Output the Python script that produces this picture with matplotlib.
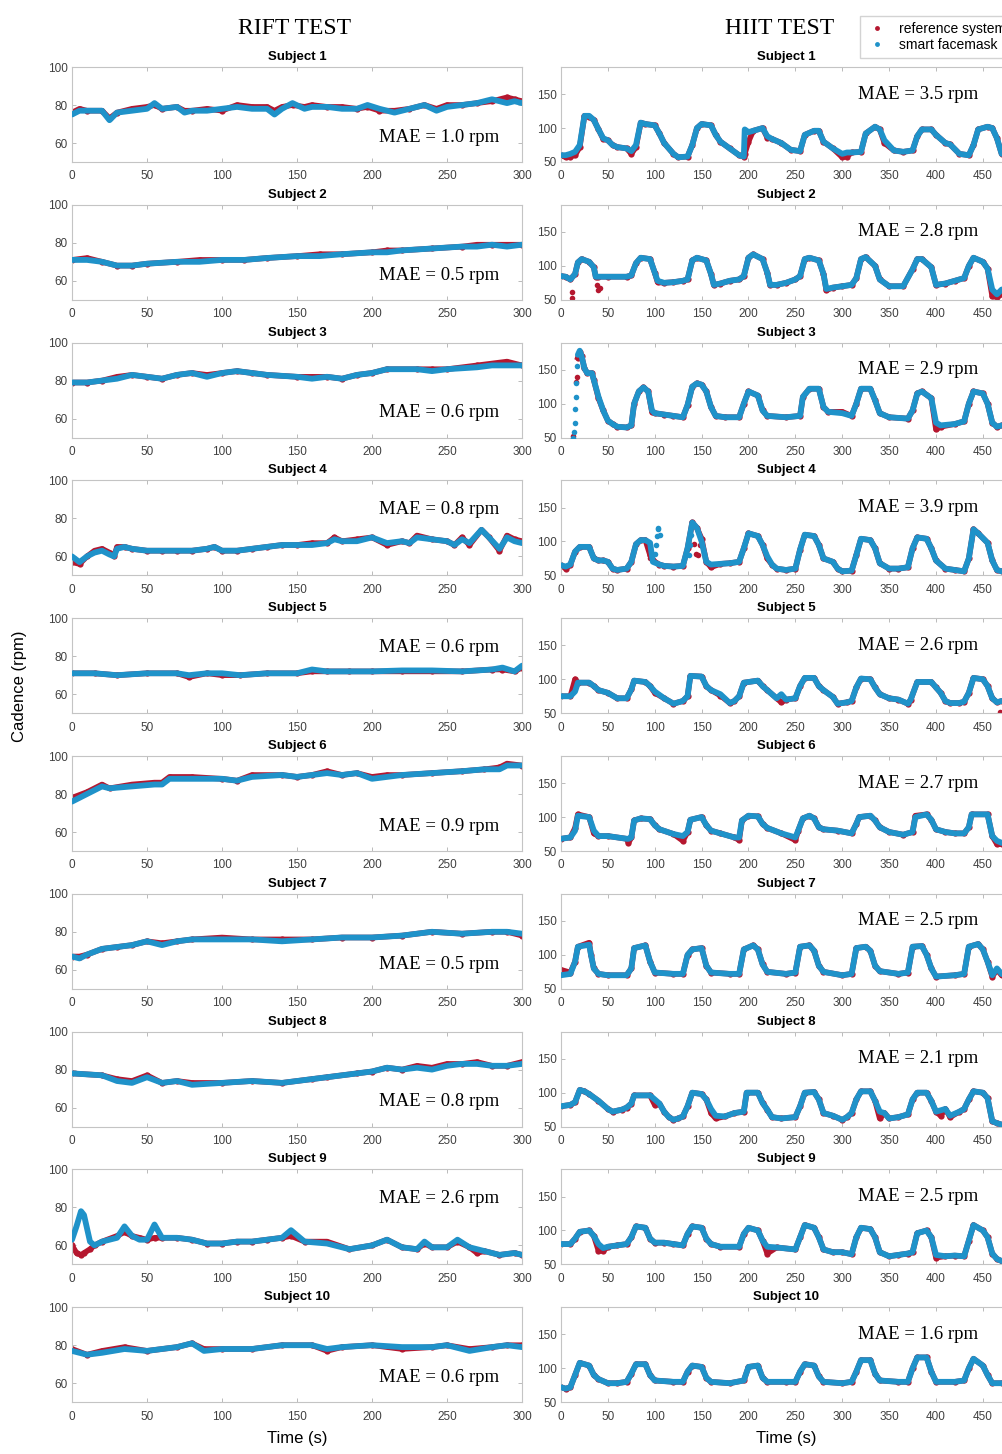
import numpy as np
import matplotlib.pyplot as plt
from matplotlib.lines import Line2D

plt.rcParams['font.family'] = ['Liberation Sans', 'DejaVu Sans']

# (time s, smart facemask rpm, reference system rpm)
rift_s1 = [(0,75,76),(5,77,78),(10,77,77),(20,77,77),(25,72,73),(30,76,76),(40,77,78),(50,78,79),(55,81,80),(60,78,78),
           (70,79,79),(75,76,77),(80,77,77),(90,77,78),(100,78,77),(110,79,80),(120,78,79),(130,78,79),(135,75,77),(140,78,79),
           (147,81,80),(155,78,79),(160,79,80),(170,79,79),(180,78,79),(190,78,78),(197,80,79),(205,78,77),(215,76,77),(225,78,78),
           (235,80,80),(243,77,78),(250,79,80),(260,80,80),(270,81,81),(280,83,82),(290,81,84),(295,82,83),(300,81,82)]
rift_s2 = [(0,71,71),(10,71,72),(20,70,70),(30,68,68),(40,68,68),(50,69,69),(70,70,70),(85,70,71),(100,71,71),(115,71,71),
           (130,72,72),(150,73,73),(165,73,74),(180,74,74),(200,75,75),(210,75,76),(220,76,76),(240,77,77),(260,78,78),(270,78,79),
           (280,79,79),(290,78,79),(300,79,79)]
rift_s3 = [(0,79,79),(10,79,79),(20,80,80),(30,81,82),(40,83,83),(50,82,82),(60,81,81),(70,83,83),(80,84,84),(90,82,83),
           (100,84,84),(110,85,85),(120,84,84),(130,83,83),(150,82,82),(160,81,82),(170,82,82),(180,81,81),(190,83,83),(200,84,84),
           (210,86,86),(230,86,86),(240,85,86),(250,86,86),(270,87,88),(280,88,89),(290,88,90),(300,88,88)]
rift_s4 = [(0,60,57),(5,57,56),(10,60,60),(15,62,63),(20,63,64),(25,61,62),(28,60,60),(30,64,65),(35,65,65),(40,64,64),
           (50,63,63),(60,63,63),(70,63,63),(80,63,63),(90,64,64),(95,65,65),(100,63,63),(110,63,63),(120,64,64),(130,65,65),
           (140,66,66),(150,66,66),(160,66,67),(170,67,67),(175,69,70),(180,68,68),(190,68,69),(200,70,70),(210,67,66),(220,68,68),
           (225,67,67),(230,70,71),(240,69,69),(250,68,68),(255,66,66),(260,69,70),(265,67,66),(273,74,74),(278,70,70),(285,64,63),
           (290,70,71),(295,68,69),(300,67,68)]
rift_s5 = [(0,71,71),(15,71,71),(30,70,70),(50,71,71),(70,71,71),(78,70,69),(90,71,71),(100,71,70),(112,70,70),(130,71,71),
           (150,71,71),(160,73,72),(170,72,72),(185,72,72),(200,72,72),(220,72.5,72),(240,72.5,72),(260,72,72),(280,73,73),(287,74,73),
           (295,72,72),(300,75,74)]
rift_s6 = [(0,76,78),(10,80,81),(20,84,85),(25,83,83),(40,84,85),(55,85,86),(60,85,86),(65,88,89),(80,88,89),(100,88,88),
           (110,87,87),(120,89,90),(140,90,90),(150,89,89),(160,90,90),(170,91,92),(180,90,90),(190,91,91),(200,88,89),(210,89,90),
           (220,90,90),(240,91,91),(260,92,92),(275,93,93),(285,93,94),(290,95,96),(300,95,95)]
rift_s7 = [(0,67,67),(5,66,67),(10,68,68),(20,71,71),(30,72,72),(40,73,73),(50,75,75),(60,73,74),(70,75,75),(80,76,76),
           (100,76,77),(120,76,76),(140,75,76),(160,76,76),(180,77,77),(200,77,77),(220,78,78),(240,80,80),(260,79,79),(280,80,80),
           (290,80,80),(300,79,78)]
rift_s8 = [(0,78,78),(20,77,77),(30,74,75),(40,73,74),(50,76,77),(60,73,73),(70,74,74),(80,72,73),(100,73,73),(120,74,74),
           (140,73,73),(160,75,75),(170,76,76),(190,78,78),(200,79,79),(210,81,81),(220,80,80),(230,81,82),(240,80,81),(250,82,83),
           (260,83,83),(270,83,84),(280,82,82),(290,82,82),(300,83,84)]
rift_s9 = [(0,63,60),(3,70,56),(6,78,55),(8,76,56),(12,62,58),(15,60,60),(20,62,62),(30,64,65),(35,70,67),(40,65,65),
           (45,63,64),(50,63,63),(55,71,64),(60,64,64),(70,64,64),(80,63,63),(90,61,61),(100,61,61),(110,62,62),(120,62,62),
           (130,63,63),(140,64,64),(146,68,65),(155,62,62),(170,61,62),(185,58,58),(200,60,60),(210,63,63),(220,59,59),(230,58,58),
           (235,62,61),(240,59,59),(250,59,59),(257,63,62),(265,59,59),(270,58,56),(275,57,57),(285,55,55),(295,56,56),(300,55,55)]
rift_s10 = [(0,77,78),(10,75,75),(20,76,77),(35,78,79),(50,77,77),(70,79,79),(80,81,81),(88,77,78),(100,78,78),(120,78,78),
            (140,80,80),(160,80,80),(170,78,77),(180,79,79),(200,80,80),(220,79,78),(240,79,79),(250,80,80),(265,77,78),(280,79,79),
            (290,80,80),(300,79,80)]

hiit_s1 = [(0,60,60),(5,60,57),(10,62,58),(15,65,60),(20,75,72),(25,118,118),(30,118,117),(35,112,112),(40,98,98),(45,85,84),
           (50,82,82),(55,75,75),(60,72,72),(70,70,70),(75,66,62),(80,75,72),(85,108,108),(90,106,106),(100,104,104),(105,92,92),
           (110,78,78),(120,62,62),(125,57,57),(135,58,58),(140,75,75),(145,100,100),(150,106,106),(160,104,104),(165,90,90),(170,80,80),
           (180,70,70),(190,60,60),(195,58,58),(196,98,62),(200,94,80),(205,96,96),(215,100,100),(220,88,86),(225,84,84),(235,78,78),
           (245,68,68),(255,66,66),(260,90,90),(270,96,96),(275,96,96),(280,80,80),(290,70,70),(300,62,57),(305,64,58),(310,64,64),
           (320,65,65),(325,92,92),(335,102,102),(340,98,98),(345,82,78),(355,67,67),(365,65,65),(375,67,67),(380,88,88),(385,98,98),
           (395,98,98),(400,90,90),(410,78,78),(415,76,76),(425,62,62),(435,60,60),(440,75,75),(445,98,98),(455,102,102),(460,100,100),
           (465,85,85),(470,62,62),(480,60,60)]
hiit_s2 = [(0,85,85),(5,84,84),(10,80,80),(15,88,88),(18,105,105),(22,110,110),(30,106,106),(35,98,98),(37,84,84),(40,84,84),
           (50,84,84),(70,84,84),(75,86,86),(80,104,104),(85,112,112),(95,110,110),(100,90,90),(103,78,76),(110,75,75),(120,76,76),
           (130,78,78),(135,80,80),(140,108,108),(145,112,112),(155,108,108),(160,88,88),(163,72,72),(170,74,74),(180,78,78),(190,80,80),
           (195,85,85),(200,112,112),(205,117,117),(215,110,110),(220,90,90),(223,72,72),(230,72,72),(240,75,75),(250,80,80),(255,85,85),
           (260,110,110),(265,112,112),(275,108,108),(280,88,88),(283,66,64),(290,68,68),(300,70,70),(310,72,72),(315,82,82),(320,110,110),
           (325,113,113),(335,100,100),(340,80,80),(350,70,70),(365,70,70),(375,95,95),(380,110,110),(385,110,110),(395,98,98),(400,72,72),
           (410,74,74),(420,78,78),(430,82,82),(435,100,100),(440,112,112),(450,106,106),(455,96,96),(460,65,55),(465,58,54),(470,65,58),
           (480,68,62)]
hiit_s3 = [(18,172,168),(20,178,176),(22,170,170),(25,152,152),(28,145,145),(33,145,145),(35,135,135),(40,110,108),(45,90,90),(50,75,75),
           (55,70,70),(60,66,66),(70,65,65),(75,68,68),(78,100,100),(83,118,118),(88,124,124),(93,118,118),(97,90,88),(100,86,86),
           (110,84,84),(120,82,82),(130,80,80),(135,98,98),(140,125,125),(145,130,130),(150,128,128),(155,118,118),(160,95,95),(165,82,82),
           (175,80,80),(190,80,80),(195,100,100),(200,118,118),(210,112,112),(215,90,90),(220,82,82),(240,80,80),(255,82,82),(258,110,110),
           (265,122,122),(275,122,122),(280,95,95),(285,88,88),(300,86,88),(310,82,82),(315,100,100),(320,122,122),(330,122,122),(335,105,105),
           (340,86,86),(350,80,80),(370,78,78),(375,90,90),(380,115,115),(385,118,118),(395,108,108),(400,72,62),(405,68,66),(420,70,70),
           (430,74,74),(435,100,100),(440,118,118),(450,115,115),(455,100,100),(460,72,72),(465,66,66),(470,68,68),(480,70,70)]
hiit_s4 = [(0,65,65),(5,63,60),(10,66,66),(15,85,85),(20,92,92),(30,92,92),(35,75,75),(40,72,72),(45,72,72),(50,70,70),
           (55,60,60),(60,58,58),(70,60,60),(75,70,70),(80,96,96),(85,102,102),(90,102,102),(95,98,80),(98,70,72),(105,66,66),
           (110,64,64),(120,63,63),(130,64,64),(135,90,90),(140,128,128),(145,120,120),(150,100,104),(155,70,70),(160,66,62),(170,67,67),
           (180,68,68),(190,70,70),(195,90,90),(200,112,112),(210,108,108),(215,95,95),(220,78,75),(225,66,66),(230,60,60),(240,58,58),
           (250,60,60),(255,88,88),(260,110,110),(270,108,108),(275,95,95),(280,75,75),(290,70,70),(295,60,60),(300,56,56),(310,57,57),
           (315,80,80),(320,104,104),(330,102,102),(335,90,90),(340,68,68),(350,60,60),(360,60,60),(370,62,62),(375,90,90),(380,106,106),
           (390,104,104),(395,90,90),(400,72,72),(410,60,60),(420,58,58),(430,56,56),(435,75,75),(440,118,118),(445,112,112),(455,98,98),
           (460,72,72),(465,58,58),(470,56,56),(480,56,56)]
hiit_s5 = [(0,75,75),(10,75,75),(15,82,100),(18,95,95),(30,95,95),(35,90,90),(40,84,84),(50,80,80),(60,72,72),(70,72,72),
           (75,85,85),(78,98,98),(90,96,96),(95,90,90),(100,82,80),(110,72,72),(120,64,64),(130,68,68),(135,75,75),(138,105,105),
           (150,104,104),(155,90,90),(160,84,84),(170,78,76),(180,65,65),(185,68,68),(190,75,75),(195,95,95),(210,98,98),(215,90,90),
           (220,84,84),(230,72,72),(235,78,66),(240,70,70),(250,72,72),(255,90,90),(260,102,102),(270,102,102),(275,90,90),(280,84,84),
           (290,74,74),(295,64,64),(305,66,66),(310,68,68),(315,88,88),(320,101,101),(330,100,100),(335,88,88),(340,78,78),(350,72,72),
           (360,70,70),(370,64,64),(373,70,70),(380,96,96),(395,96,96),(400,88,88),(405,80,80),(410,68,68),(415,65,65),(425,65,65),
           (430,67,67),(435,80,80),(440,102,102),(450,100,100),(455,90,90),(460,72,72),(465,66,66),(470,68,68),(480,68,68)]
hiit_s6 = [(0,68,68),(10,70,70),(15,80,84),(18,102,104),(30,100,100),(35,80,76),(40,72,72),(50,72,72),(70,68,68),(72,68,62),
           (75,70,70),(78,95,95),(85,98,98),(95,97,97),(100,88,88),(105,82,82),(120,75,75),(130,72,65),(135,78,78),(138,96,96),
           (150,100,100),(155,88,88),(160,80,80),(170,76,76),(185,70,70),(190,70,66),(193,95,95),(200,102,102),(210,101,101),(215,90,90),
           (220,84,84),(235,76,76),(250,70,66),(253,80,80),(258,98,98),(265,102,102),(270,98,98),(275,85,85),(280,82,82),(295,80,80),
           (310,76,76),(315,90,90),(318,100,100),(330,102,102),(335,95,95),(340,85,85),(350,78,78),(365,74,74),(375,78,78),(378,100,102),
           (390,104,104),(395,96,96),(400,82,82),(410,78,78),(420,76,76),(430,76,76),(435,85,85),(438,104,104),(455,104,104),(460,72,72),
           (465,65,60),(470,62,60),(480,62,62)]
hiit_s7 = [(0,70,78),(10,72,74),(15,90,90),(18,112,112),(30,115,118),(32,100,100),(35,80,80),(40,72,72),(50,70,70),(70,70,70),
           (75,80,80),(78,110,110),(90,114,114),(95,90,90),(100,74,74),(120,72,72),(130,72,72),(135,100,100),(140,108,108),(150,110,110),
           (155,84,84),(160,74,74),(180,72,72),(190,72,72),(195,108,108),(205,114,114),(210,108,108),(215,86,86),(220,75,75),(240,72,72),
           (250,74,74),(255,112,112),(265,114,114),(270,106,106),(275,84,84),(280,75,75),(300,70,70),(310,72,72),(315,110,110),(325,112,112),
           (330,106,106),(335,84,84),(340,76,76),(360,72,72),(370,74,74),(375,112,112),(385,113,113),(390,100,100),(395,80,80),(400,68,68),
           (420,70,70),(430,72,72),(435,112,112),(445,116,116),(450,108,108),(455,90,90),(460,70,68),(465,80,78),(470,72,70),(480,68,68)]
hiit_s8 = [(0,80,80),(10,82,82),(15,86,86),(20,104,104),(25,102,102),(30,98,98),(40,88,88),(50,76,76),(55,72,72),(65,75,75),
           (70,78,78),(75,84,84),(78,96,96),(95,96,96),(100,90,82),(105,84,84),(110,72,72),(115,64,64),(120,60,60),(125,62,62),
           (130,65,65),(135,80,80),(140,100,100),(150,98,98),(155,90,90),(160,76,70),(165,66,62),(175,65,65),(185,70,70),(195,72,72),
           (198,100,100),(210,100,100),(215,85,85),(220,75,75),(225,64,64),(235,62,62),(250,64,64),(255,80,80),(260,100,100),(270,101,101),
           (275,90,90),(280,70,70),(290,66,66),(300,60,60),(305,64,64),(310,70,70),(315,90,90),(320,102,102),(330,102,102),(335,88,88),
           (340,72,62),(345,70,70),(350,62,62),(360,64,64),(370,68,68),(375,90,90),(380,100,100),(390,100,100),(395,88,88),(400,72,72),
           (405,74,66),(410,76,76),(415,66,64),(425,72,72),(430,76,76),(435,90,90),(440,102,102),(450,100,100),(455,92,92),(460,58,58),
           (465,55,55),(470,53,53),(480,52,52)]
hiit_s9 = [(0,80,80),(10,80,80),(15,88,88),(20,98,98),(30,100,100),(35,92,92),(40,80,70),(45,74,70),(50,76,76),(60,78,78),
           (70,80,80),(75,90,90),(80,106,106),(90,104,104),(95,88,88),(100,82,82),(110,82,82),(120,80,80),(130,78,78),(135,95,95),
           (140,106,106),(150,104,104),(155,88,88),(160,80,80),(170,76,76),(190,76,76),(195,95,95),(200,104,104),(210,100,100),(215,85,85),
           (220,76,66),(230,75,75),(250,72,72),(255,90,90),(260,108,108),(270,104,104),(275,90,90),(280,72,72),(290,68,68),(300,68,68),
           (310,65,65),(315,90,90),(320,104,104),(330,102,102),(335,90,90),(340,68,68),(350,62,62),(360,64,64),(370,66,66),(375,68,68),
           (380,96,96),(390,100,100),(395,90,90),(400,64,60),(410,62,62),(420,63,63),(430,62,62),(435,85,85),(440,108,108),(450,100,100),
           (455,90,90),(460,66,66),(465,58,58),(470,55,55),(480,54,54)]
hiit_s10 = [(0,72,72),(5,70,70),(10,72,72),(15,90,90),(20,108,108),(30,104,104),(35,90,90),(40,84,84),(50,78,78),(60,78,78),
            (70,80,80),(75,92,92),(80,106,106),(90,106,106),(95,90,90),(100,82,82),(120,80,80),(130,80,80),(135,95,95),(140,104,104),
            (150,102,102),(155,86,86),(160,80,80),(180,78,78),(195,82,82),(200,102,102),(210,104,104),(215,86,86),(220,80,80),(240,80,80),
            (250,80,80),(255,95,95),(260,106,106),(270,104,104),(275,88,88),(280,80,80),(300,78,78),(310,80,80),(315,95,95),(320,112,112),
            (330,112,112),(335,92,92),(340,82,82),(360,80,80),(370,80,80),(375,100,100),(380,116,116),(390,116,116),(395,95,95),(400,80,80),
            (420,80,80),(430,82,82),(435,100,100),(440,114,114),(450,104,104),(455,90,90),(460,78,78),(470,78,78),(480,78,78)]

# isolated samples (time, rpm)
hiit_s2_ref_out = [(12,52),(12,62),(38,72),(40,65),(42,68)]
hiit_s3_ref_out = [(13,52),(16,132),(17,140)]
hiit_s3_fm_out = [(13,50),(14,58),(14.5,72),(15,92),(15.5,110),(16,130),(17,155)]
hiit_s4_ref_out = [(95,76),(142,96),(144,82),(146,80),(148,95)]
hiit_s4_fm_out = [(100,82),(101,95),(102,108),(103,118),(104,120),(106,110),(137,80),(138,95),(139,110)]
hiit_s5_ref_out = [(468,52)]

rift_mae = [1.0, 0.5, 0.6, 0.8, 0.6, 0.9, 0.5, 0.8, 2.6, 0.6]
rift_mae_top = [False, False, False, True, True, False, False, False, True, False]
hiit_mae = [3.5, 2.8, 2.9, 3.9, 2.6, 2.7, 2.5, 2.1, 2.5, 1.6]

rift_all = [rift_s1, rift_s2, rift_s3, rift_s4, rift_s5, rift_s6, rift_s7, rift_s8, rift_s9, rift_s10]
hiit_all = [hiit_s1, hiit_s2, hiit_s3, hiit_s4, hiit_s5, hiit_s6, hiit_s7, hiit_s8, hiit_s9, hiit_s10]
ref_out = {1: hiit_s2_ref_out, 2: hiit_s3_ref_out, 3: hiit_s4_ref_out, 4: hiit_s5_ref_out}
fm_out = {2: hiit_s3_fm_out, 3: hiit_s4_fm_out}

RED = '#b5172f'
BLUE = '#1f92c9'
TICK = '#404040'
W, H = 1003, 1454

fig = plt.figure(figsize=(W / 100, H / 100), dpi=100)


def px_axes(left, top, width, height):
    return fig.add_axes([left / W, 1 - (top + height) / H, width / W, height / H])


def draw(ax, data, r_out=None, f_out=None):
    t, fm, ref = np.array(data, dtype=float).T
    ax.plot(t, ref, color=RED, lw=4.0, marker='o', ms=4.5, mew=0, zorder=2)
    if r_out:
        rt, rv = np.array(r_out).T
        ax.plot(rt, rv, 'o', color=RED, ms=4, mew=0, zorder=2)
    ax.plot(t, fm, color=BLUE, lw=4.2, solid_capstyle='round', zorder=3)
    if f_out:
        ft, fv = np.array(f_out).T
        ax.plot(ft, fv, 'o', color=BLUE, ms=4, mew=0, zorder=3)


def style(ax):
    for s in ax.spines.values():
        s.set_color('#c4c4c4')
        s.set_linewidth(0.8)
    ax.tick_params(direction='in', length=3, width=0.6, color='#b0b0b0',
                   labelsize=8.5, labelcolor=TICK, top=True, right=True, pad=3)
    ax.tick_params(axis='x', pad=6)


for i in range(10):
    top = 67 + 137.8 * i
    axl = px_axes(72, top, 450, 95)
    draw(axl, rift_all[i])
    axl.set_xlim(0, 300)
    axl.set_ylim(50, 100)
    axl.set_xticks(range(0, 301, 50))
    axl.set_yticks([60, 80, 100])
    style(axl)
    axl.set_title(f'Subject {i + 1}', fontsize=9.5, fontweight='bold', pad=5)
    ymae = 84.5 if rift_mae_top[i] else 63
    axl.text(285, ymae, f'MAE = {rift_mae[i]:.1f} rpm', family='Liberation Serif',
             fontsize=13.5, ha='right', va='center')

    axr = px_axes(561, top, 450, 95)
    draw(axr, hiit_all[i], ref_out.get(i), fm_out.get(i))
    axr.set_xlim(0, 480)
    axr.set_ylim(50, 190)
    axr.set_xticks(range(0, 451, 50))
    axr.set_yticks([50, 100, 150])
    style(axr)
    axr.set_title(f'Subject {i + 1}', fontsize=9.5, fontweight='bold', pad=5)
    axr.text(445, 150, f'MAE = {hiit_mae[i]:.1f} rpm', family='Liberation Serif',
             fontsize=13.5, ha='right', va='center')

    if i == 9:
        axl.set_xlabel('Time (s)', fontsize=12, labelpad=6)
        axr.set_xlabel('Time (s)', fontsize=12, labelpad=6)

fig.text(295 / W, 1 - 28 / H, 'RIFT TEST', family='Liberation Serif', fontsize=17,
         ha='center', va='center')
fig.text(780 / W, 1 - 28 / H, 'HIIT TEST', family='Liberation Serif', fontsize=17,
         ha='center', va='center')
fig.text(20 / W, 1 - 686 / H, 'Cadence (rpm)', fontsize=12, rotation=90,
         ha='center', va='center')

handles = [Line2D([], [], ls='none', marker='o', ms=3.5, color=RED, mew=0),
           Line2D([], [], ls='none', marker='o', ms=3.5, color=BLUE, mew=0)]
fig.legend(handles, ['reference system', 'smart facemask'], loc='upper left',
           bbox_to_anchor=(853 / W, 1 - 9 / H), fontsize=10, frameon=True,
           fancybox=False, edgecolor='#c8c8c8', handlelength=1.6, handletextpad=0.8,
           borderpad=0.4, labelspacing=0.2)

fig.savefig('out.png', dpi=100, facecolor='white')
